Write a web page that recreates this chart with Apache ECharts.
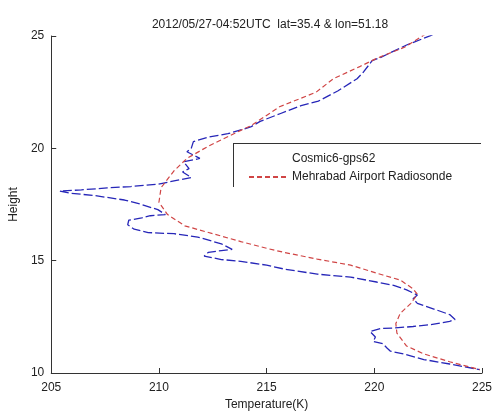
<!DOCTYPE html>
<html>
<head>
<meta charset="utf-8">
<script src="https://cdn.jsdelivr.net/npm/echarts@6/dist/echarts.min.js"></script>
<style>html,body{margin:0;padding:0;background:#fff;}#c{width:495px;height:416px;}</style>
</head>
<body>
<div id="c"></div>
<script>
var titleText = '2012/05/27-04:52UTC  lat=35.4 & lon=51.18';
var seriesNames = ['Cosmic6-gps62', 'Mehrabad Airport Radiosonde'];
var xTicks = [205, 210, 215, 220, 225];
var yTicks = [10, 15, 20, 25];

var cosmicTemp = [222.7,221.5,220.3,219.9,219.5,219.2,218.3,217.4,216.6,215.65,214.7,214.26,213.2,212.3,211.6,211.5,211.3,211.6,211.9,211.15,211.4,211.1,211.5,210.7,209.95,208.7,207.6,206.4,205.4,205.9,207.0,208.4,209.2,209.95,210.3,209.6,209.2,208.6,208.55,208.85,209.5,210.7,211.8,212.9,213.4,212.9,212.3,212.1,212.9,213.8,215.0,215.8,217.35,218.9,220.1,220.9,221.5,222.0,221.8,222.0,222.7,223.5,223.75,223.5,222.6,221.8,220.9,220.3,219.8,220.05,219.95,220.4,220.6,220.75,221.35,222.3,223.5,224.9];
var cosmicHeight = [25.05,24.6,24.05,23.9,23.4,23.1,22.55,22.1,21.9,21.55,21.2,20.95,20.65,20.5,20.3,20.0,19.85,19.7,19.55,19.4,19.1,18.95,18.7,18.55,18.4,18.3,18.24,18.15,18.1,18.0,17.9,17.7,17.5,17.27,17.05,17.0,16.9,16.8,16.6,16.4,16.25,16.2,16.05,15.75,15.5,15.45,15.37,15.2,15.05,14.97,14.8,14.63,14.4,14.27,14.05,13.9,13.7,13.47,13.3,13.1,12.87,12.6,12.38,12.3,12.15,12.07,12.0,11.98,11.85,11.6,11.4,11.3,11.1,10.97,10.85,10.6,10.4,10.15];

var radioTemp = [222.4,221.4,220.1,219.35,218.1,217.3,215.6,214.26,213.8,212.3,211.3,210.7,210.1,210.0,210.4,211.2,212.5,213.8,215.0,215.8,217.35,218.9,220.4,221.2,221.8,222.0,221.7,221.2,221.0,221.05,221.5,222.3,223.5,224.9];
var radioHeight = [25.1,24.5,24.0,23.65,23.1,22.5,21.85,21.0,20.8,20.1,19.55,19.0,18.25,17.6,17.05,16.55,16.2,15.85,15.55,15.37,15.07,14.8,14.36,14.14,13.75,13.5,13.1,12.65,12.2,11.77,11.2,10.85,10.5,10.15];

function zip(a, b) { return a.map(function (v, i) { return [v, b[i]]; }); }

var font = 'Liberation Sans, Arial, sans-serif';
var chart = echarts.init(document.getElementById('c'));
chart.setOption({
  animation: false,
  backgroundColor: '#fff',
  title: {
    text: titleText, left: 265, top: 14, textAlign: 'center',
    textStyle: { fontSize: 12, fontWeight: 'normal', color: '#222', fontFamily: font }
  },
  grid: { left: 51, right: 13, top: 36, bottom: 39, containLabel: false },
  legend: {
    orient: 'vertical', left: 243, top: 148, itemWidth: 38, itemHeight: 12, itemGap: 6,
    textStyle: { fontSize: 12, color: '#222', fontFamily: font },
    data: [
      { name: seriesNames[0], itemStyle: { opacity: 0 }, lineStyle: { opacity: 0 } },
      { name: seriesNames[1], itemStyle: { opacity: 0 } }
    ]
  },
  graphic: [
    { type: 'line', shape: { x1: 233, y1: 143.5, x2: 481, y2: 143.5 }, style: { stroke: '#333', lineWidth: 1 }, z: 100 },
    { type: 'line', shape: { x1: 233.5, y1: 143, x2: 233.5, y2: 187 }, style: { stroke: '#333', lineWidth: 1 }, z: 100 }
  ],
  xAxis: {
    type: 'value', min: xTicks[0], max: xTicks[xTicks.length - 1], interval: 5,
    name: 'Temperature(K)', nameLocation: 'middle', nameGap: 26,
    nameTextStyle: { fontSize: 12, color: '#222', fontFamily: font },
    axisLine: { lineStyle: { color: '#333', width: 1 } },
    axisTick: { inside: true, length: 5, lineStyle: { color: '#333' } },
    axisLabel: { fontSize: 12, color: '#222', margin: 9, fontFamily: font },
    splitLine: { show: false }
  },
  yAxis: {
    type: 'value', min: yTicks[0], max: yTicks[yTicks.length - 1], interval: 5,
    name: 'Height', nameLocation: 'middle', nameGap: 31,
    nameTextStyle: { fontSize: 12, color: '#222', fontFamily: font },
    axisLine: { show: true, lineStyle: { color: '#333', width: 1 } },
    axisTick: { show: true, inside: true, length: 5, lineStyle: { color: '#333' } },
    axisLabel: { fontSize: 12, color: '#222', margin: 7, fontFamily: font },
    splitLine: { show: false }
  },
  series: [
    {
      name: seriesNames[0], type: 'line', symbol: 'none', data: zip(cosmicTemp, cosmicHeight),
      lineStyle: { color: '#2626b8', width: 1.3, type: [9, 3] }, itemStyle: { color: '#2626b8' }
    },
    {
      name: seriesNames[1], type: 'line', symbol: 'none', data: zip(radioTemp, radioHeight),
      lineStyle: { color: '#d04545', width: 1.2, type: [5, 3] }, itemStyle: { color: '#d04545' }
    }
  ]
});
</script>
</body>
</html>
